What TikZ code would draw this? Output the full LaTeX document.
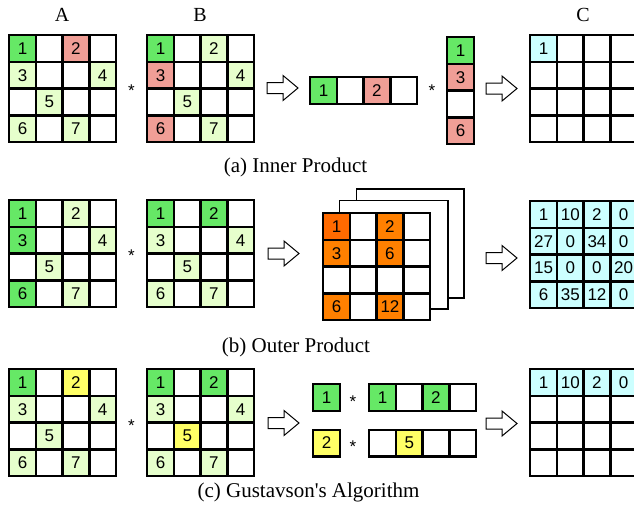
\documentclass[tikz,border=0pt]{standalone}
\usepackage{fontspec}
\setmainfont{Liberation Serif}
\newfontfamily\cellfont{Liberation Sans}
\definecolor{cgreen}{RGB}{102,232,102}
\definecolor{clight}{RGB}{230,255,204}
\definecolor{cpink}{RGB}{240,158,150}
\definecolor{cyellow}{RGB}{255,255,102}
\definecolor{corange}{RGB}{255,128,0}
\definecolor{cdorange}{RGB}{255,106,0}
\definecolor{ccyan}{RGB}{204,255,255}
\tikzset{
  cell/.style={draw, fill=white, line width=2.4pt, minimum size=26.7pt, inner sep=0pt,
    font=\cellfont\fontsize{17}{17}\selectfont},
  captext/.style={font=\fontsize{21}{21}\selectfont, anchor=base},
  headlabel/.style={font=\fontsize{20}{20}\selectfont, anchor=base},
  startext/.style={font=\cellfont\fontsize{17}{17}\selectfont, anchor=base, inner sep=0pt},
  layer/.style={draw, line width=1.2pt, fill=white},
  fatarrow/.pic={\draw[line width=1pt, fill=white]
    (0,-5.5) -- (16,-5.5) -- (16,-12.5) -- (31,0) -- (16,12.5) -- (16,5.5) -- (0,5.5) -- cycle;}
}
% blank grid of cells: name, x, y (top-left), rows, cols
\newcommand\grid[5]{%
  \foreach \r in {1,...,#4}{\foreach \c in {1,...,#5}{%
    \node[cell] (#1-\r-\c) at ({#2+(\c-0.5)*26.7},{#3+(\r-0.5)*26.7}) {};}}}
% coloured, numbered cell laid over a grid cell
\newcommand\setcell[3]{\node[cell,fill=#2] at (#1) {#3};}
\begin{document}
\begin{tikzpicture}[x=1pt,y=-1pt]
\useasboundingbox[fill=white] (0,0) rectangle (634,512);

% ---------- (a) inner product ----------
\node[headlabel] (labA) at (62,21) {A};
\node[headlabel] (labB) at (200,21) {B};
\node[headlabel] (labC) at (583,21) {C};

\grid{aA}{9.2}{35.2}{4}{4}
\setcell{aA-1-1}{cgreen}{1}\setcell{aA-1-3}{cpink}{2}
\setcell{aA-2-1}{clight}{3}\setcell{aA-2-4}{clight}{4}
\setcell{aA-3-2}{clight}{5}
\setcell{aA-4-1}{clight}{6}\setcell{aA-4-3}{clight}{7}
\node[startext] (aS1) at (131.5,96.5) {*};
\grid{aB}{147.2}{35.2}{4}{4}
\setcell{aB-1-1}{cgreen}{1}\setcell{aB-1-3}{clight}{2}
\setcell{aB-2-1}{cpink}{3}\setcell{aB-2-4}{clight}{4}
\setcell{aB-3-2}{clight}{5}
\setcell{aB-4-1}{cpink}{6}\setcell{aB-4-3}{clight}{7}
\pic at (267,88) {fatarrow};
\grid{aR}{310.2}{77.2}{1}{4}
\setcell{aR-1-1}{cgreen}{1}\setcell{aR-1-3}{cpink}{2}
\node[startext] (aS2) at (432,96.5) {*};
\grid{aK}{447.2}{37.2}{4}{1}
\setcell{aK-1-1}{cgreen}{1}\setcell{aK-2-1}{cpink}{3}\setcell{aK-4-1}{cpink}{6}
\pic at (486,88.5) {fatarrow};
\grid{aC}{530.2}{35.2}{4}{4}
\setcell{aC-1-1}{ccyan}{1}
\node[captext] (capA) at (295.5,172) {(a) Inner Product};

% ---------- (b) outer product ----------
\grid{bA}{9.2}{200.2}{4}{4}
\setcell{bA-1-1}{cgreen}{1}\setcell{bA-1-3}{clight}{2}
\setcell{bA-2-1}{cgreen}{3}\setcell{bA-2-4}{clight}{4}
\setcell{bA-3-2}{clight}{5}
\setcell{bA-4-1}{cgreen}{6}\setcell{bA-4-3}{clight}{7}
\node[startext] (bS1) at (131.5,261.5) {*};
\grid{bB}{147.2}{200.2}{4}{4}
\setcell{bB-1-1}{cgreen}{1}\setcell{bB-1-3}{cgreen}{2}
\setcell{bB-2-1}{clight}{3}\setcell{bB-2-4}{clight}{4}
\setcell{bB-3-2}{clight}{5}
\setcell{bB-4-1}{clight}{6}\setcell{bB-4-3}{clight}{7}
\pic at (268,253.5) {fatarrow};
% stacked partial-product matrices
\draw[layer] (356.5,189) rectangle (464,298);
\draw[layer] (339.5,200.5) rectangle (448,309);
\grid{bP}{323.2}{213.2}{4}{4}
\setcell{bP-1-1}{cdorange}{1}\setcell{bP-1-3}{corange}{2}
\setcell{bP-2-1}{corange}{3}\setcell{bP-2-3}{corange}{6}
\setcell{bP-4-1}{corange}{6}\setcell{bP-4-3}{corange}{12}
\pic at (486,258) {fatarrow};
\grid{bC}{530.2}{201.2}{4}{4}
\foreach \r/\c/\v in {1/1/1,1/2/10,1/3/2,1/4/0,
                      2/1/27,2/2/0,2/3/34,2/4/0,
                      3/1/15,3/2/0,3/3/0,3/4/20,
                      4/1/6,4/2/35,4/3/12,4/4/0}{\setcell{bC-\r-\c}{ccyan}{\v}}
\node[captext] (capB) at (296,352) {(b) Outer Product};

% ---------- (c) Gustavson's algorithm ----------
\grid{cA}{9.2}{369.2}{4}{4}
\setcell{cA-1-1}{cgreen}{1}\setcell{cA-1-3}{cyellow}{2}
\setcell{cA-2-1}{clight}{3}\setcell{cA-2-4}{clight}{4}
\setcell{cA-3-2}{clight}{5}
\setcell{cA-4-1}{clight}{6}\setcell{cA-4-3}{clight}{7}
\node[startext] (cS1) at (131.5,431) {*};
\grid{cB}{147.2}{369.2}{4}{4}
\setcell{cB-1-1}{cgreen}{1}\setcell{cB-1-3}{cgreen}{2}
\setcell{cB-2-1}{clight}{3}\setcell{cB-2-4}{clight}{4}
\setcell{cB-3-2}{cyellow}{5}
\setcell{cB-4-1}{clight}{6}\setcell{cB-4-3}{clight}{7}
\pic at (268,423) {fatarrow};
\grid{cG}{313.2}{384.2}{1}{1}
\setcell{cG-1-1}{cgreen}{1}
\node[startext] (cS2) at (353,407) {*};
\grid{cR1}{369.2}{384.2}{1}{4}
\setcell{cR1-1-1}{cgreen}{1}\setcell{cR1-1-3}{cgreen}{2}
\grid{cY}{313.2}{429.7}{1}{1}
\setcell{cY-1-1}{cyellow}{2}
\node[startext] (cS3) at (353,452.5) {*};
\grid{cR2}{369.2}{429.7}{1}{4}
\setcell{cR2-1-2}{cyellow}{5}
\pic at (486,423.5) {fatarrow};
\grid{cC}{530.2}{369.2}{4}{4}
\foreach \c/\v in {1/1,2/10,3/2,4/0}{\setcell{cC-1-\c}{ccyan}{\v}}
\node[captext] (capC) at (308.5,497) {(c) Gustavson\textquotesingle s Algorithm};
\end{tikzpicture}
\end{document}
